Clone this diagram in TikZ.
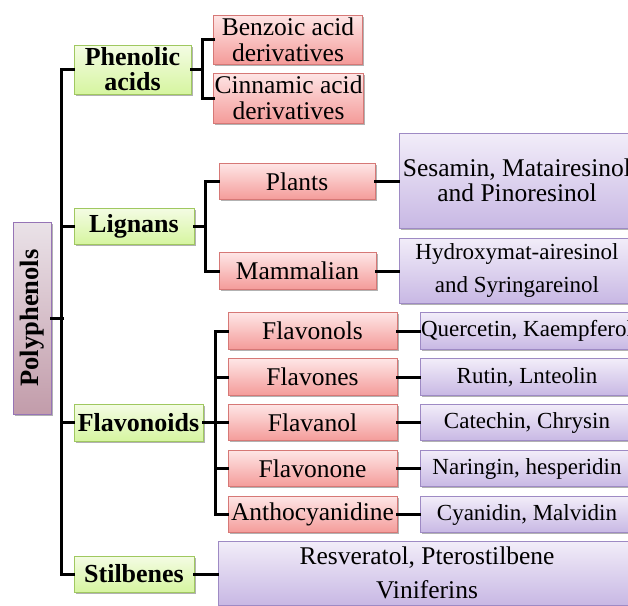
\documentclass[tikz,border=0pt]{standalone}
\usepackage{fontspec}
\setmainfont{Liberation Serif}
\usetikzlibrary{shadows}
\definecolor{grtop}{RGB}{244,252,228}
\definecolor{grbot}{RGB}{214,245,160}
\definecolor{grdraw}{RGB}{160,200,96}
\definecolor{rdtop}{RGB}{254,230,230}
\definecolor{rdbot}{RGB}{244,155,153}
\definecolor{rddraw}{RGB}{214,120,118}
\definecolor{pptop}{RGB}{242,237,249}
\definecolor{ppbot}{RGB}{200,184,228}
\definecolor{ppdraw}{RGB}{158,138,196}
\definecolor{potop}{RGB}{234,226,232}
\definecolor{pobot}{RGB}{194,156,170}
\definecolor{podraw}{RGB}{150,116,182}
\tikzset{
  box/.style={draw, line width=1pt, inner sep=0pt, align=center,
    drop shadow={shadow xshift=1.5pt, shadow yshift=-1.5pt, opacity=.3, fill=black}},
  greenbox/.style={box, top color=grtop, bottom color=grbot, draw=grdraw,
    font=\fontsize{26}{25}\selectfont\bfseries},
  redbox/.style={box, top color=rdtop, bottom color=rdbot, draw=rddraw,
    font=\fontsize{25.5}{26}\selectfont, minimum height=36.5pt},
  purplebox/.style={box, top color=pptop, bottom color=ppbot, draw=ppdraw,
    font=\fontsize{23}{25}\selectfont, minimum height=36.5pt},
  polybox/.style={box, top color=potop, bottom color=pobot, draw=podraw,
    font=\fontsize{26.5}{26}\selectfont\bfseries},
  conn/.style={line width=3pt, black, line cap=rect}
}
\begin{document}
\begin{tikzpicture}[x=1pt,y=-1pt]
\useasboundingbox (0,0) rectangle (628,605);
\clip (0,0) rectangle (628,605);
% level 0
\node[polybox, minimum width=38pt, minimum height=192pt] (poly) at (32,318) {\rotatebox{90}{Polyphenols}};
% level 1
\node[greenbox, minimum width=117pt, minimum height=49pt] (phen) at (132.5,69.5) {Phenolic\\acids};
\node[greenbox, minimum width=120pt, minimum height=36pt] (lign) at (134,226) {Lignans};
\node[greenbox, minimum width=129pt, minimum height=37pt] (flav) at (138.5,422.5) {Flavonoids};
\node[greenbox, minimum width=120pt, minimum height=36pt] (stil) at (134,574) {Stilbenes};
% phenolic acids
\node[redbox, minimum width=149pt, minimum height=49pt] (benz) at (288,39.5) {Benzoic acid\\derivatives};
\node[redbox, minimum width=150pt, minimum height=50pt] (cinn) at (288.5,98) {Cinnamic acid\\derivatives};
% lignans
\node[redbox, minimum width=156pt] (plan) at (297,181.5) {Plants};
\node[redbox, minimum width=157pt] (mamm) at (297.5,271) {Mammalian};
\node[purplebox, minimum width=236pt, minimum height=95pt, font=\fontsize{25.5}{25}\selectfont] (sesa) at (517,180.5) {Sesamin, Matairesinol\\and Pinoresinol};
\node[purplebox, minimum width=236pt, minimum height=65pt, font=\fontsize{23}{33}\selectfont] (hydr) at (517,270.5) {Hydroxymat-airesinol\\and Syringareinol};
% flavonoids
\node[redbox, minimum width=169pt] (fa) at (312.5,331) {Flavonols};
\node[redbox, minimum width=169pt] (fb) at (312.5,377) {Flavones};
\node[redbox, minimum width=169pt] (fc) at (312.5,422.5) {Flavanol};
\node[redbox, minimum width=169pt] (fd) at (312.5,468.5) {Flavonone};
\node[redbox, minimum width=169pt] (fe) at (312.5,514.5) {Anthocyanidine};
\node[purplebox, minimum width=214pt] (pa) at (527,331) {Quercetin, Kaempferol};
\node[purplebox, minimum width=214pt] (pb) at (527,377) {Rutin, Lnteolin};
\node[purplebox, minimum width=214pt] (pc) at (527,422.5) {Catechin, Chrysin};
\node[purplebox, minimum width=214pt] (pd) at (527,468.5) {Naringin, hesperidin};
\node[purplebox, minimum width=214pt] (pe) at (527,514.5) {Cyanidin, Malvidin};
% stilbenes
\node[purplebox, minimum width=418pt, minimum height=64pt, font=\fontsize{25.5}{34}\selectfont] (stp) at (427,573) {Resveratol, Pterostilbene\\Viniferins};
% connectors
\draw[conn] (poly.east) -- ++(11,0);
\draw[conn] (phen.west) -- ++(-12,0) |- (stil.west);
\draw[conn] (lign.west) -- ++(-12,0);
\draw[conn] (flav.west) -- ++(-12,0);
\draw[conn] (phen.east) -- ++(11,0) coordinate (pj);
\draw[conn] (benz.west) -| (pj) |- (cinn.west);
\draw[conn] (lign.east) -- ++(11,0) coordinate (lj);
\draw[conn] (plan.west) -| (lj) |- (mamm.west);
\draw[conn] (flav.east) -- ++(12,0) coordinate (fj);
\draw[conn] (fa.west) -| (fj) |- (fe.west);
\draw[conn] (fb.west) -- (fj |- fb.west);
\draw[conn] (fc.west) -- (fj |- fc.west);
\draw[conn] (fd.west) -- (fj |- fd.west);
\draw[conn] (plan.east) -- (sesa.west |- plan.east);
\draw[conn] (mamm.east) -- (hydr.west |- mamm.east);
\draw[conn] (fa.east) -- (pa.west);
\draw[conn] (fb.east) -- (pb.west);
\draw[conn] (fc.east) -- (pc.west);
\draw[conn] (fd.east) -- (pd.west);
\draw[conn] (fe.east) -- (pe.west);
\draw[conn] (stil.east) -- (stp.west |- stil.east);
\end{tikzpicture}
\end{document}
